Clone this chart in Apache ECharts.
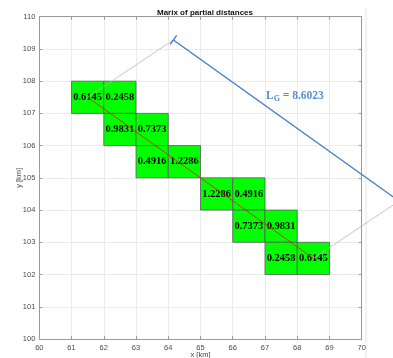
<!DOCTYPE html>
<html><head><meta charset="utf-8">
<script src="https://cdn.jsdelivr.net/npm/echarts@6/dist/echarts.min.js"></script>
<style>html,body{margin:0;padding:0;background:#fff}#c{width:393px;height:358px}</style>
</head><body><div id="c"></div>
<script>
// Data
const cellX = [61, 62, 62, 63, 63, 64, 65, 66, 66, 67, 67, 68];
const cellY = [107, 107, 106, 106, 105, 105, 104, 104, 103, 103, 102, 102];
const cellValues = ['0.6145','0.2458','0.9831','0.7373','0.4916','1.2286','1.2286','0.4916','0.7373','0.9831','0.2458','0.6145'];
const redLine = [[61.5, 107.5], [68.5, 102.5]];
const dimLine = [[64.16, 109.28], [71.16, 104.28]];
const extLine1 = [[61.5, 107.5], [64.16, 109.28]];
const extLine2 = [[68.5, 102.5], [71.16, 104.28]];
const dimTick = [[64.06, 109.14], [64.26, 109.42]];
const lgLabelPos = [67.93, 107.54];
const lgValue = '8.6023';
const xTicks = [60, 70, 1];
const yTicks = [100, 110, 1];

const cells = cellX.map((x, i) => [x, cellY[i], cellValues[i]]);
const chart = echarts.init(document.getElementById('c'));
const axisColor = '#9a9a9a';
const labelColor = '#4a4a4a';
const gridLine = {show: true, lineStyle: {color: '#ebebeb', width: 1}};
const common = {
  axisLine: {show: true, onZero: false, lineStyle: {color: axisColor, width: 1}},
  axisTick: {show: true, inside: true, length: 3, lineStyle: {color: axisColor}},
};
function lineSeries(pts, color, width, z) {
  return {
    type: 'custom', data: pts, z: z, clip: false, silent: true,
    renderItem: function (params, api) {
      if (params.dataIndex !== 0) return null;
      const points = pts.map(p => api.coord(p));
      return {type: 'polyline', shape: {points: points},
        style: {stroke: color, lineWidth: width, fill: null}};
    }
  };
}
chart.setOption({
  animation: false,
  title: {text: 'Marix of partial distances', left: 200, textAlign: 'center', top: 4,
    textStyle: {fontSize: 8, fontWeight: 'bold', color: '#111', fontFamily: 'Liberation Sans'}},
  grid: {left: 39.3, right: 31.3, top: 16.7, bottom: 19, containLabel: false, outerBoundsMode: 'none'},
  xAxis: [
    Object.assign({type: 'value', min: xTicks[0], max: xTicks[1], interval: xTicks[2], name: 'x [km]',
      nameLocation: 'middle', nameGap: 12, nameMoveOverlap: false,
      nameTextStyle: {fontSize: 7.5, color: labelColor, fontFamily: 'Liberation Sans'},
      axisLabel: {fontSize: 7.5, color: labelColor, margin: 5, fontFamily: 'Liberation Sans'},
      splitLine: gridLine}, common),
    Object.assign({type: 'value', position: 'top', min: xTicks[0], max: xTicks[1], interval: xTicks[2],
      axisLabel: {show: false}, splitLine: {show: false}}, common)
  ],
  yAxis: [
    Object.assign({type: 'value', min: yTicks[0], max: yTicks[1], interval: yTicks[2], name: 'y [km]',
      nameLocation: 'middle', nameGap: 16, nameRotate: 90, nameMoveOverlap: false,
      nameTextStyle: {fontSize: 7.5, color: labelColor, fontFamily: 'Liberation Sans'},
      axisLabel: {fontSize: 7.5, color: labelColor, margin: 4, fontFamily: 'Liberation Sans'},
      splitLine: gridLine}, common),
    Object.assign({type: 'value', position: 'right', min: yTicks[0], max: yTicks[1], interval: yTicks[2],
      axisLabel: {show: false}, splitLine: {show: false}}, common)
  ],
  graphic: [{type: 'line', shape: {x1: 366, y1: 8, x2: 366, y2: 358},
    style: {stroke: '#e6e6e6', lineWidth: 1}, silent: true}],
  series: [
    {
      type: 'custom', data: cells, z: 2,
      renderItem: function (params, api) {
        const p0 = api.coord([api.value(0), api.value(1) + 1]);
        const sz = api.size([1, 1]);
        const v = cells[params.dataIndex][2];
        return {
          type: 'group', children: [
            {type: 'rect', shape: {x: p0[0], y: p0[1], width: sz[0], height: sz[1]},
              style: {fill: '#00ff00', stroke: '#5a5a5a', lineWidth: 0.8}},
            {type: 'text', x: p0[0] + sz[0] / 2, y: p0[1] + sz[1] / 2,
              style: {text: v, fill: '#000', font: 'bold 10.5px "Liberation Serif"', align: 'center', verticalAlign: 'middle'}}
          ]
        };
      }
    },
    lineSeries(extLine1, '#b8b8b8', 0.8, 3),
    lineSeries(extLine2, '#b8b8b8', 0.8, 3),
    lineSeries(redLine, '#d42a1a', 0.9, 4),
    lineSeries(dimLine, '#3d78cc', 1.3, 4),
    lineSeries(dimTick, '#3d78cc', 1.3, 4),
    {type: 'scatter', data: [lgLabelPos], symbolSize: 0, z: 5,
      label: {show: true, position: 'inside',
        formatter: '{a|L}{b|G}{a| = ' + lgValue + '}',
        rich: {
          a: {fontFamily: 'Liberation Serif', fontWeight: 'bold', fontSize: 11.5, color: '#2f72c4'},
          b: {fontFamily: 'Liberation Serif', fontWeight: 'bold', fontSize: 8, color: '#2f72c4', padding: [6, 0, 0, 0]}
        }}}
  ]
});
</script></body></html>
